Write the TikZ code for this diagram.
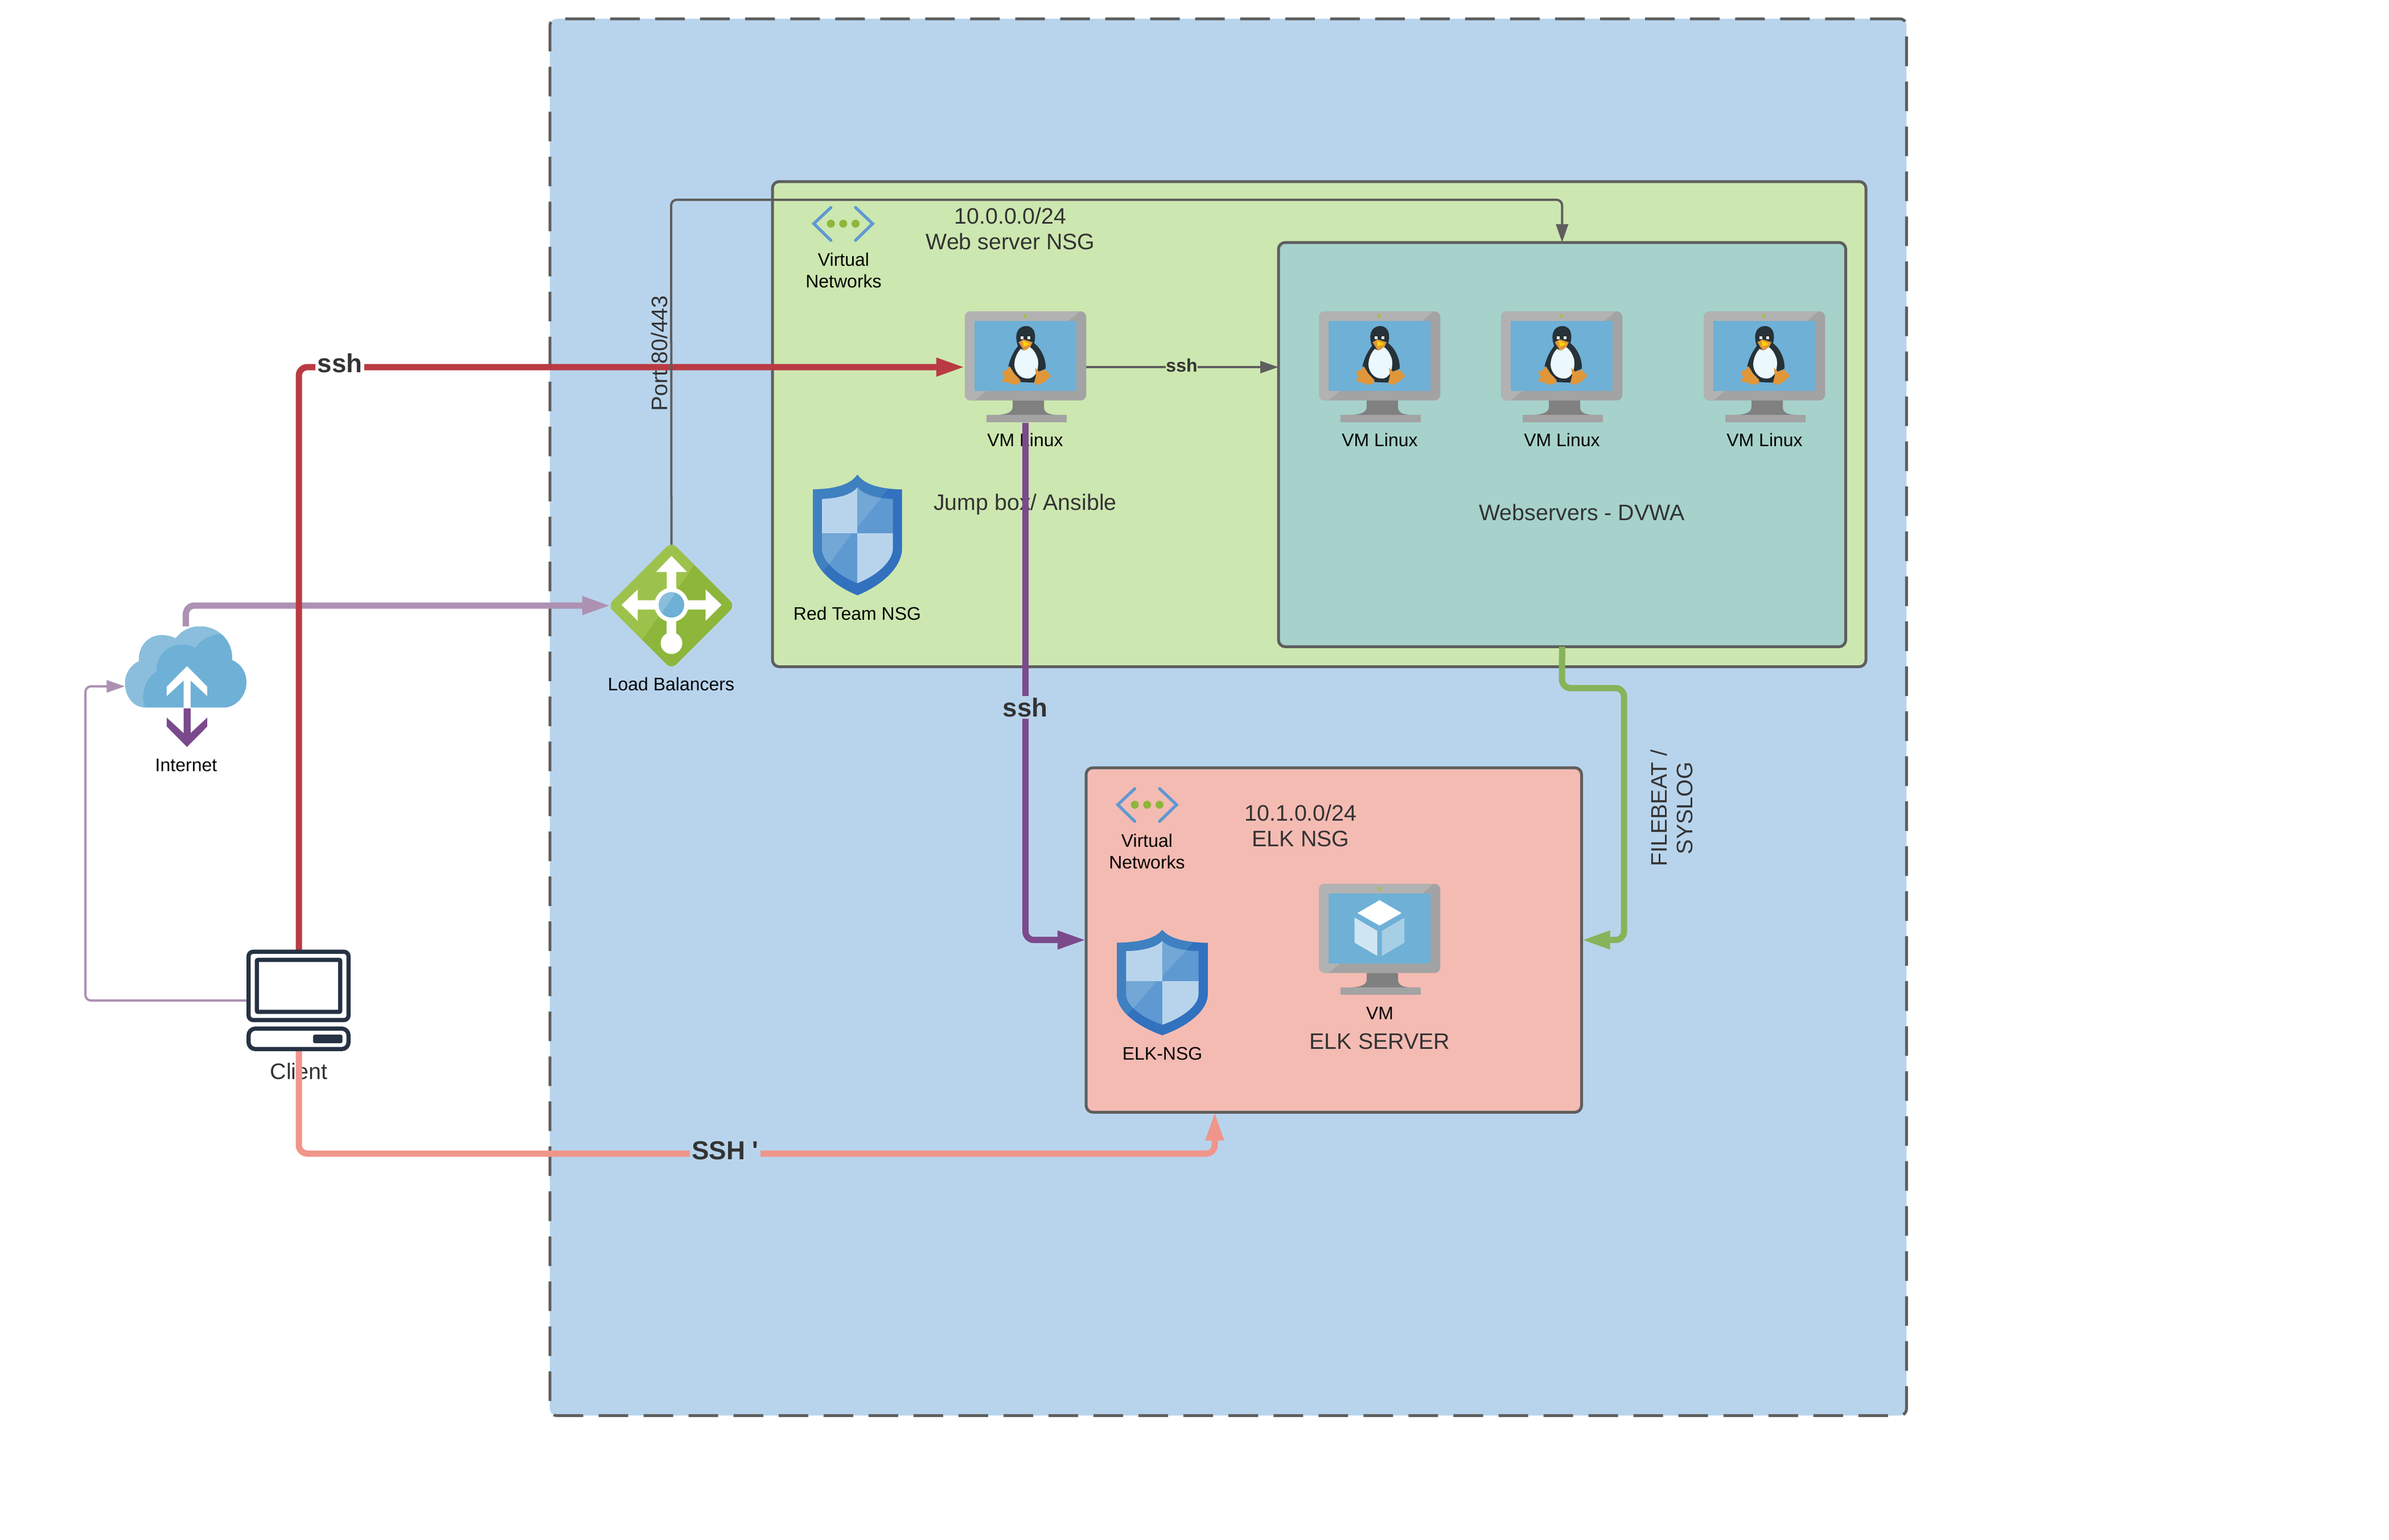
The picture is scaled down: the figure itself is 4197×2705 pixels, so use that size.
\documentclass[tikz,border=0pt]{standalone}
\usepackage{fontspec}
\setmainfont{Liberation Sans}
\usetikzlibrary{arrows.meta, positioning}

\definecolor{netblue}{HTML}{B8D4EC}
\definecolor{webgreen}{HTML}{CDE7B0}
\definecolor{dvwateal}{HTML}{A6D2CB}
\definecolor{elkpink}{HTML}{F4BBB3}
\definecolor{edgegrey}{HTML}{5E5E5E}
\definecolor{textgrey}{HTML}{333333}
\definecolor{sshred}{HTML}{B93A42}
\definecolor{sshpurple}{HTML}{7B4A8C}
\definecolor{softpurple}{HTML}{AD91B3}
\definecolor{sshsalmon}{HTML}{F0958A}
\definecolor{beatgreen}{HTML}{87B35A}
\definecolor{screenblue}{HTML}{6EB0D6}
\definecolor{paleblue}{HTML}{8BBEDD}
\definecolor{azgreen}{HTML}{8DB63B}
\definecolor{azlight}{HTML}{9DC24B}
\definecolor{clientink}{HTML}{263243}
\definecolor{tuxink}{HTML}{263238}
\definecolor{tuxfoot}{HTML}{E0973A}
\definecolor{cubeleft}{HTML}{D0E5F2}
\definecolor{cuberight}{HTML}{A6CFE6}
\definecolor{shieldedge}{HTML}{3271BE}
\definecolor{shieldlight}{HTML}{3F80C1}
\definecolor{shieldmid}{HTML}{5F99D2}
\definecolor{shieldsoft}{HTML}{72A7D6}

\tikzset{
  zone/.style={draw=edgegrey, line width=0.5mm, rounded corners=1.2mm, anchor=north west, inner sep=0pt, outer sep=0pt},
  iconbox/.style={inner sep=0pt, outer sep=0pt, anchor=north west},
  smalltext/.style={font=\fontsize{9.1pt}{10.8pt}\selectfont, align=center, text=black, inner sep=0pt},
  bigtext/.style={font=\fontsize{11.2pt}{13pt}\selectfont, align=center, text=textgrey, inner sep=0pt},
  sshtext/.style={font=\fontsize{13pt}{15pt}\selectfont\bfseries, text=textgrey, inner sep=1pt},
  thickwire/.style={line width=1.1mm, rounded corners=1.5mm},
  thinwire/.style={line width=0.4mm, rounded corners=1mm},
  bigtip/.style={-{Triangle[length=5mm,width=3mm]}},
  thintip/.style={-{Triangle[length=3.2mm,width=2.1mm]}},
  % monitor, drawn from its top left corner
  vmframe/.pic={
    \begin{scope}[scale=1/3]
      \fill[black!36] (0,0) [rounded corners=1mm] rectangle (640,470);
      \begin{scope}
        \clip[rounded corners=1mm] (0,0) rectangle (640,470);
        \fill[black!30] (-5,-5) -- (611,-5) -- (45,475) -- (-5,475) -- cycle;
      \end{scope}
      \fill[screenblue] (51,50) rectangle (589,420);
      \fill[yellow!60!green!70!gray] (317,26) circle (10);
      \fill[black!50] (252,470) -- (252,505) .. controls (252,535) and (210,546) .. (165,546) -- (490,546) .. controls (445,546) and (417,535) .. (417,505) -- (417,470) -- cycle;
      \fill[black!36] (115,546) rectangle (538,586);
    \end{scope}
  },
  tux/.pic={
    \begin{scope}[scale=1/3, shift={(-135,-142)}]
      \fill[tuxink] (458,220) .. controls (425,220) and (405,245) .. (406,280) .. controls (406,300) and (412,315) .. (415,325) .. controls (395,350) and (375,385) .. (365,430) -- (385,470) -- (430,515) -- (500,518) -- (525,460) -- (560,445) .. controls (565,400) and (540,340) .. (500,310) .. controls (510,280) and (510,220) .. (458,220) -- cycle;
      \fill[cyan!8!white] (430,340) .. controls (400,370) and (390,420) .. (400,445) .. controls (415,490) and (450,500) .. (480,495) .. controls (520,480) and (525,430) .. (520,395) .. controls (510,360) and (490,335) .. (475,330) .. controls (460,350) and (445,350) .. (430,340) -- cycle;
      \fill[tuxfoot] (418,305) -- (445,290) -- (492,305) -- (480,330) -- (447,350) -- cycle;
      \fill[yellow!70!orange] (440,295) -- (480,315) -- (445,328) -- cycle;
      \fill[white] (428,275) rectangle (443,290);
      \fill[white] (466,275) rectangle (481,290);
      \fill[tuxfoot] (372,432) -- (395,470) -- (428,505) -- (425,520) -- (400,530) -- (328,508) -- (345,490) -- (330,462) -- (355,452) -- cycle;
      \fill[tuxfoot] (505,440) -- (525,460) -- (560,450) -- (590,483) -- (555,515) -- (520,530) -- (500,520) -- (510,480) -- cycle;
    \end{scope}
  },
  cube/.pic={
    \begin{scope}[scale=1/3, shift={(-52,-40)}]
      \fill[white] (372,126) -- (488,194) -- (372,260) -- (255,194) -- cycle;
      \fill[cubeleft] (240,218) -- (360,288) -- (360,420) -- (240,350) -- cycle;
      \fill[cuberight] (384,288) -- (503,218) -- (503,350) -- (384,420) -- cycle;
    \end{scope}
  },
  cloudicon/.pic={
    \begin{scope}[scale=1/3, shift={(-118,-182)}]
      \fill[paleblue] (225,610) .. controls (160,610) and (118,550) .. (118,480) .. controls (118,430) and (150,385) .. (192,365) .. controls (185,290) and (240,228) .. (310,228) .. controls (340,228) and (365,235) .. (385,245) .. controls (415,205) and (460,182) .. (515,182) .. controls (610,182) and (690,260) .. (682,360) .. controls (730,380) and (758,425) .. (758,478) .. controls (758,550) and (700,610) .. (640,610) -- cycle;
      \begin{scope}
        \clip (225,610) -- (640,610) .. controls (700,610) and (758,550) .. (758,478) .. controls (758,425) and (730,380) .. (682,360) .. controls (690,260) and (610,182) .. (515,182) -- (300,182) -- (118,400) -- (118,610) -- cycle;
        \fill[screenblue] (225,610) .. controls (205,570) and (205,470) .. (285,420) .. controls (280,340) and (340,278) .. (415,278) .. controls (445,278) and (470,285) .. (490,295) .. controls (520,250) and (570,225) .. (630,222) -- (800,222) -- (800,620) -- (225,620) -- cycle;
      \end{scope}
      \fill[white] (445,392) -- (552,500) -- (552,550) -- (464,468) -- (464,612) -- (427,612) -- (427,468) -- (338,550) -- (338,500) -- cycle;
      \fill[sshpurple] (427,614) -- (464,614) -- (464,745) -- (552,663) -- (552,710) -- (445,818) -- (338,710) -- (338,663) -- (427,745) -- cycle;
    \end{scope}
  },
  lbicon/.pic={
    \begin{scope}[scale=1/3, shift={(-68,-52)}]
      \fill[azgreen, rounded corners=1.2mm] (388,37) -- (723,372) -- (388,707) -- (53,372) -- cycle;
      \begin{scope}
        \clip[rounded corners=1.2mm] (388,37) -- (723,372) -- (388,707) -- (53,372) -- cycle;
        \fill[azlight] (40,40) -- (590,40) -- (130,700) -- (40,700) -- cycle;
      \end{scope}
      % four way arrows
      \fill[white] (388,110) -- (470,195) -- (413,195) -- (413,300) -- (363,300) -- (363,195) -- (306,195) -- cycle;
      \fill[white] (125,368) -- (210,287) -- (210,343) -- (310,343) -- (310,393) -- (210,393) -- (210,452) -- cycle;
      \fill[white] (652,368) -- (568,287) -- (568,343) -- (470,343) -- (470,393) -- (568,393) -- (568,452) -- cycle;
      \fill[white] (363,450) rectangle (413,540);
      \fill[white] (388,570) circle (57);
      \fill[white] (388,368) circle (90);
      \fill[screenblue] (388,368) circle (67);
      \begin{scope}
        \clip (388,368) circle (67);
        \fill[paleblue] (310,290) -- (420,290) -- (325,425) -- (310,425) -- cycle;
      \end{scope}
    \end{scope}
  },
  clienticon/.pic={
    \begin{scope}[scale=1/3, shift={(-100,-88)}]
      \draw[clientink, fill=white, line width=0.73mm, rounded corners=0.8mm] (111,98) rectangle (638,458);
      \draw[clientink, fill=white, line width=0.73mm, rounded corners=0.2mm] (155,141) rectangle (594,415);
      \draw[clientink, fill=white, line width=0.73mm, rounded corners=1.2mm] (111,503) rectangle (638,611);
      \fill[clientink, rounded corners=0.3mm] (451,535) rectangle (606,580);
    \end{scope}
  },
  shieldicon/.pic={
    \begin{scope}[scale=1/3, shift={(-85,-42)}]
      \fill[shieldedge] (320,42) .. controls (360,100) and (450,118) .. (555,120) -- (555,430) .. controls (555,530) and (450,625) .. (320,678) .. controls (190,625) and (85,530) .. (85,430) -- (85,120) .. controls (190,118) and (280,100) .. (320,42) -- cycle;
      \begin{scope}
        \clip (320,42) .. controls (360,100) and (450,118) .. (555,120) -- (555,430) .. controls (555,530) and (450,625) .. (320,678) .. controls (190,625) and (85,530) .. (85,430) -- (85,120) .. controls (190,118) and (280,100) .. (320,42) -- cycle;
        \fill[shieldlight] (60,20) -- (557,20) -- (60,652) -- cycle;
      \end{scope}
      \begin{scope}
        \clip (320,108) .. controls (350,150) and (430,168) .. (507,170) -- (507,430) .. controls (507,500) and (420,575) .. (320,614) .. controls (220,575) and (133,500) .. (133,430) -- (133,170) .. controls (210,168) and (290,150) .. (320,108) -- cycle;
        \fill[netblue] (120,100) rectangle (320,352);
        \fill[netblue] (320,352) rectangle (520,640);
        \fill[shieldmid] (320,100) rectangle (520,352);
        \fill[shieldmid] (120,352) rectangle (320,640);
        \fill[shieldsoft] (320,100) -- (497,100) -- (320,320) -- cycle;
        \fill[shieldsoft] (120,352) -- (290,352) -- (120,583) -- cycle;
      \end{scope}
    \end{scope}
  },
  vneticon/.pic={
    \begin{scope}[scale=1/3, shift={(-85,-70)}]
      \draw[shieldmid, line width=0.53mm, line cap=round] (180,75) -- (90,160) -- (180,248);
      \draw[shieldmid, line width=0.53mm, line cap=round] (310,75) -- (400,160) -- (310,248);
      \foreach \i in {180,245,310} {
        \fill[azgreen] (\i,160) circle (21);
      }
    \end{scope}
  },
}

\begin{document}
\begin{tikzpicture}[x=0.01cm, y=-0.01cm]
\useasboundingbox (0,0) rectangle (4197,2705);
\fill[white] (0,0) rectangle (4197,2705);

% Network zones
\node[zone, dash pattern=on 5.2mm off 2.7mm, fill=netblue, minimum width=23.82cm, minimum height=24.53cm] (azure) at (966,33) {};
\node[zone, fill=webgreen, minimum width=19.2cm, minimum height=8.52cm] (webnet) at (1357,319) {};
\node[zone, fill=dvwateal, minimum width=9.96cm, minimum height=7.1cm] (dvwa) at (2246,426) {};
\node[zone, fill=elkpink, minimum width=8.7cm, minimum height=6.05cm] (elknet) at (1908,1349) {};

% Where the icons sit
\node[iconbox, minimum width=2.13cm, minimum height=1.96cm] (jump) at (1695,547) {};
\foreach \vm/\xx in {web1/2317, web2/2637, web3/2993} {
  \node[iconbox, minimum width=2.13cm, minimum height=1.96cm] (\vm) at (\xx,547) {};
}
\node[iconbox, minimum width=2.13cm, minimum height=1.96cm] (elkvm) at (2317,1553) {};
\node[iconbox, minimum width=2.13cm, minimum height=2.13cm] (lb) at (1073,957.5) {};
\node[iconbox, minimum width=2.14cm, minimum height=1.43cm] (inet) at (219.5,1100.5) {};
\node[iconbox, minimum width=1.84cm, minimum height=1.78cm] (client) at (433,1669) {};
\coordinate (inetin) at (219.5,1206);
\coordinate (leftbend) at (150,1206);
\coordinate (portbend) at (1179,351);
\coordinate (beatbend) at (2744,1209);
\coordinate (beatdown) at (2853,1209);
\coordinate (elkin) at (2134,1954);
\coordinate (saltbend) at (525,2027);

% Labels
\node[smalltext] (jumplabel) at (1801,773) {VM Linux};
\foreach \vm/\xx in {web1label/2424, web2label/2744, web3label/3100} {
  \node[smalltext] (\vm) at (\xx,773) {VM Linux};
}
\node[smalltext] (vnet1label) at (1482,475) {Virtual\\Networks};
\node[smalltext] (vnet2label) at (2015,1496) {Virtual\\Networks};
\node[smalltext] (redlabel) at (1506,1078) {Red Team NSG};
\node[smalltext] (lblabel) at (1179,1202) {Load Balancers};
\node[smalltext] (inetlabel) at (327,1345) {Internet};
\node[smalltext] (elkshieldlabel) at (2042,1851) {ELK-NSG};
\node[smalltext] (vmlabel) at (2424,1780) {VM};
\node[bigtext] (weblabel) at (1775,402) {10.0.0.0/24\\Web server NSG};
\node[bigtext] (jumpname) at (1801,886) {Jump box/ Ansible};
\node[bigtext] (dvwaname) at (2779,900) {Webservers - DVWA};
\node[bigtext] (elklabel) at (2285,1451) {10.1.0.0/24\\ELK NSG};
\node[bigtext] (elkname) at (2424,1830) {ELK SERVER};
\node[bigtext] (clientlabel) at (525,1882) {Client};
\node[bigtext, rotate=90] (portlabel) at (1158,621) {Port 80/443};
\node[bigtext, rotate=90] (beatlabel) at (2937,1420) {FILEBEAT /\\SYSLOG};

% Connectors
\draw[thinwire, softpurple, thintip] (client.west) -| (leftbend) -- (inetin);
\draw[thickwire, softpurple, bigtip] (inet.north) |- (lb.west);
\draw[thickwire, sshred, bigtip] (client.north) |- (jump.west);
\draw[thickwire, sshpurple, bigtip] (jump.south) |- (elknet.west);
\draw[thickwire, beatgreen, bigtip] (dvwa.south) -- (beatbend) -- (beatdown) |- (elknet.east);
\draw[thickwire, sshsalmon, bigtip] (client.south) -- (saltbend) -| (elkin);
\draw[thinwire, edgegrey, thintip] (lb.north) -- (portbend) -| (dvwa.north);
\draw[thinwire, edgegrey, thintip] (jump.east) -- (jump.east -| dvwa.west);

% Labels sitting on the connectors
\node[sshtext, fill=white] (redssh) at (597,638) {ssh};
\node[sshtext, fill=netblue] (purplessh) at (1801,1243) {ssh};
\node[sshtext, fill=netblue] (saltssh) at (1274,2022) {SSH \textquotesingle};
\node[smalltext, font=\fontsize{9.1pt}{11pt}\selectfont\bfseries, text=textgrey, fill=webgreen] (greyssh) at (2076,642) {ssh};

% Icons
\foreach \vm in {jump, web1, web2, web3} {
  \pic at (\vm.north west) {vmframe};
  \pic at (\vm.north west) {tux};
}
\pic at (elkvm.north west) {vmframe};
\pic at (elkvm.north west) {cube};
\pic at (inet.north west) {cloudicon};
\pic at (lb.north west) {lbicon};
\pic at (client.north west) {clienticon};
\node[iconbox, minimum width=1.57cm, minimum height=2.12cm] (redshield) at (1428,834) {};
\node[iconbox, minimum width=1.6cm, minimum height=1.85cm] (elkshield) at (1962,1634) {};
\pic at (redshield.north west) {shieldicon};
\pic[xscale=1.02, yscale=0.873] at (elkshield.north west) {shieldicon};
\node[iconbox, minimum width=1.07cm, minimum height=0.6cm] (vnet1) at (1428,363) {};
\node[iconbox, minimum width=1.07cm, minimum height=0.6cm] (vnet2) at (1962,1384) {};
\pic at (vnet1.north west) {vneticon};
\pic at (vnet2.north west) {vneticon};
\end{tikzpicture}
\end{document}
